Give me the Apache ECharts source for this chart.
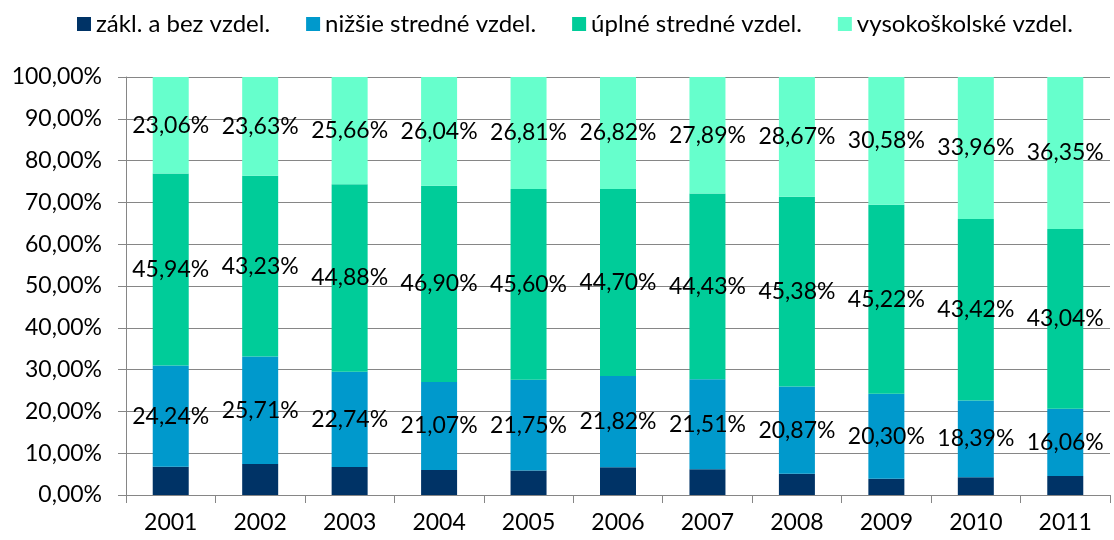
<!DOCTYPE html>
<html>
<head>
<meta charset="utf-8">
<script src="https://cdn.jsdelivr.net/npm/echarts@6/dist/echarts.min.js"></script>
<style>
  html, body {margin: 0; padding: 0; background: #fff;}
  #chart {width: 1114px; height: 540px;}
</style>
</head>
<body>
<div id="chart"></div>
<script>
const years = ['2001', '2002', '2003', '2004', '2005', '2006', '2007', '2008', '2009', '2010', '2011'];
const seriesNames = ['zákl. a bez vzdel.', 'nižšie stredné vzdel.', 'úplné stredné vzdel.', 'vysokoškolské vzdel.'];
const zakladne = [6.76, 7.43, 6.72, 5.99, 5.84, 6.66, 6.17, 5.08, 3.90, 4.23, 4.55];
const nizsieStredne = [24.24, 25.71, 22.74, 21.07, 21.75, 21.82, 21.51, 20.87, 20.30, 18.39, 16.06];
const uplneStredne = [45.94, 43.23, 44.88, 46.90, 45.60, 44.70, 44.43, 45.38, 45.22, 43.42, 43.04];
const vysokoskolske = [23.06, 23.63, 25.66, 26.04, 26.81, 26.82, 27.89, 28.67, 30.58, 33.96, 36.35];
const yTicks = [0, 10, 20, 30, 40, 50, 60, 70, 80, 90, 100];

const colors = ['#003366', '#0099cc', '#00cc99', '#66ffcc'];
const font = 'Lato';
const pct = v => v.toFixed(2).replace('.', ',') + '%';

const chart = echarts.init(document.getElementById('chart'));

// data labels only on the upper three series
const makeSeries = (name, data, showLabel) => ({
    name: name,
    type: 'bar',
    stack: 'total',
    barWidth: 36,
    data: data,
    label: {
        show: showLabel,
        position: 'inside',
        color: '#000',
        fontFamily: font,
        fontSize: 23,
        formatter: p => pct(p.value)
    }
});

chart.setOption({
    color: colors,
    animation: false,
    textStyle: {fontFamily: font},
    legend: {
        top: 7,
        left: 72,
        itemWidth: 14,
        itemHeight: 14,
        itemGap: 36,
        icon: 'rect',
        textStyle: {color: '#000', fontSize: 24, fontFamily: font},
        data: seriesNames
    },
    grid: {left: 126, right: 4, top: 77, bottom: 45},
    xAxis: {
        type: 'category',
        data: years,
        axisLine: {lineStyle: {color: '#868686'}},
        axisTick: {show: true, length: 8, lineStyle: {color: '#868686'}},
        axisLabel: {color: '#000', fontSize: 23, fontFamily: font, margin: 16}
    },
    yAxis: {
        type: 'value',
        min: yTicks[0],
        max: yTicks[yTicks.length - 1],
        interval: 10,
        axisLine: {show: true, lineStyle: {color: '#868686'}},
        axisTick: {show: true, length: 8, lineStyle: {color: '#868686'}},
        splitLine: {lineStyle: {color: '#868686'}},
        axisLabel: {color: '#000', fontSize: 23, fontFamily: font, margin: 24, formatter: v => pct(v)}
    },
    series: [
        makeSeries(seriesNames[0], zakladne, false),
        makeSeries(seriesNames[1], nizsieStredne, true),
        makeSeries(seriesNames[2], uplneStredne, true),
        makeSeries(seriesNames[3], vysokoskolske, true)
    ]
});
</script>
</body>
</html>
